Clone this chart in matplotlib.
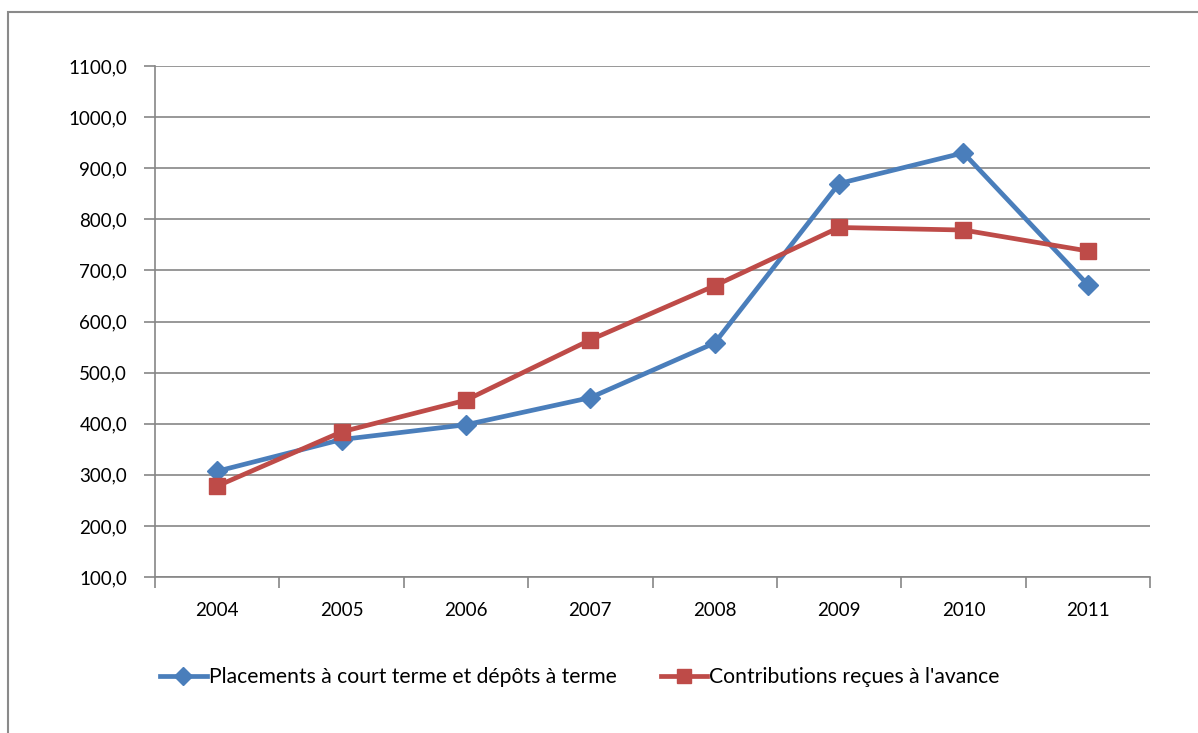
import matplotlib
matplotlib.use("Agg")
import matplotlib.pyplot as plt
from matplotlib.patches import Rectangle
from matplotlib.ticker import FixedLocator, FuncFormatter

years = ["2004", "2005", "2006", "2007", "2008", "2009", "2010", "2011"]
placements = [307, 369, 398, 451, 558, 870, 930, 672]
contributions = [278, 384, 446, 564, 670, 784, 779, 738]
label_placements = "Placements à court terme et dépôts à terme"
label_contrib = "Contributions reçues à l'avance"

plt.rcParams['font.family'] = ['Lato', 'DejaVu Sans']

W, H = 1198, 733
fig = plt.figure(figsize=(W / 100, H / 100), dpi=100)
ax = fig.add_axes([155 / W, 1 - 577 / H, (1150 - 155) / W, (577 - 66) / H])

blue = "#4A7EBB"
red = "#BE4B48"
grid = "#868686"
fs = 13.5

x = list(range(len(years)))
ax.plot(x, placements, color=blue, lw=3.4, marker="D", ms=10, mfc=blue, mec=blue,
        label=label_placements, zorder=3)
ax.plot(x, contributions, color=red, lw=3.4, marker="s", ms=11, mfc=red, mec=red,
        label=label_contrib, zorder=3)

ax.set_xlim(-0.5, len(years) - 0.5)
ax.set_ylim(100, 1100)
ax.set_yticks(range(100, 1101, 100))
ax.yaxis.set_major_formatter(FuncFormatter(lambda v, p: f"{v:.1f}".replace(".", ",")))
ax.xaxis.set_major_locator(FixedLocator([i - 0.5 for i in range(len(years) + 1)]))
ax.xaxis.set_minor_locator(FixedLocator(x))
ax.set_xticklabels([""] * (len(years) + 1))
ax.set_xticklabels(years, minor=True)
ax.tick_params(axis="x", which="major", length=8, width=1.2, color=grid, direction="out")
ax.tick_params(axis="x", which="minor", length=0, pad=18, labelsize=fs)
ax.tick_params(axis="y", length=8, width=1.2, color=grid, direction="out", labelsize=fs, pad=12)
ax.yaxis.grid(True, color=grid, lw=1.2)
ax.set_axisbelow(True)
for s in ["top", "right"]:
    ax.spines[s].set_visible(False)
for s in ["left", "bottom"]:
    ax.spines[s].set_color(grid)
    ax.spines[s].set_linewidth(1.2)

fig.legend(loc="center", bbox_to_anchor=(580 / W, 1 - 677 / H), ncol=2, frameon=False,
           fontsize=15.2, handlelength=2.2, handletextpad=0.1, columnspacing=2.1,
           markerscale=0.95)

fig.patches.append(Rectangle((8 / W, -0.1), 1.2, 1 - 12 / H + 0.1, transform=fig.transFigure,
                             fill=False, edgecolor="#8a8a8a", lw=1.5, zorder=0))

fig.savefig("out.png", dpi=100)
